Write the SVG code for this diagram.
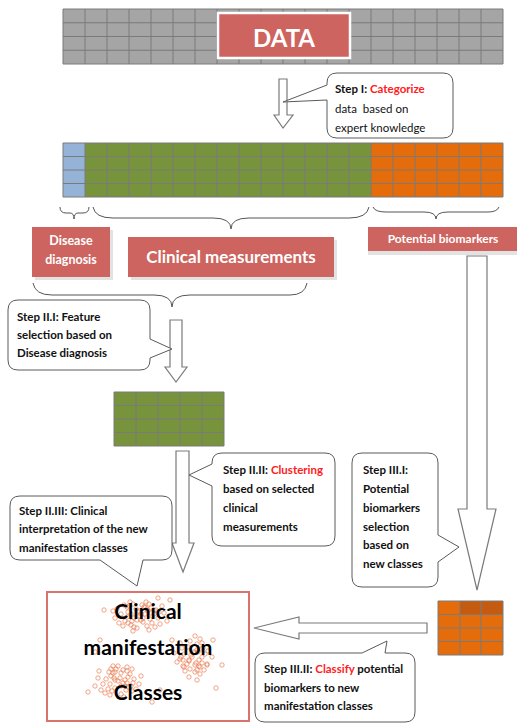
<svg xmlns="http://www.w3.org/2000/svg" width="517" height="724" viewBox="0 0 517 724">
<defs>
<style>
.gl{fill:none;stroke:#7a7a7a;stroke-width:1}
.lab{fill:#CD645F}
.sh{fill:#e2e2e2}
.lt{font-family:Lato,"Liberation Sans",sans-serif;font-weight:bold;fill:#ffffff;text-anchor:middle}
.st{font-family:Lato,"Liberation Sans",sans-serif;font-size:11.5px;fill:#111111}
.b{font-weight:bold}
.red{fill:#ff2020;font-weight:bold}
.call{fill:#ffffff;stroke:#5a5a5a;stroke-width:1}
.arr{fill:#ffffff;stroke:#7a7a7a;stroke-width:1.2}
.br{fill:none;stroke:#555555;stroke-width:1}
.dot{fill:none;stroke:#E8794F;stroke-width:0.9;opacity:0.75}
.big{font-family:Lato,"Liberation Sans",sans-serif;font-weight:bold;font-size:21px;fill:#000000;text-anchor:middle}
</style>
<circle id="c" r="2.2" class="dot"/>
</defs>
<rect width="517" height="724" fill="#ffffff"/>

<g id="data-grid">
<rect x="63" y="9" width="440" height="55" fill="#A5A5A5"/>
<path class="gl" d="M63,9H503V64H63Z M63,22.75H503 M63,36.5H503 M63,50.25H503 M85,9V64 M107,9V64 M129,9V64 M151,9V64 M173,9V64 M195,9V64 M217,9V64 M239,9V64 M261,9V64 M283,9V64 M305,9V64 M327,9V64 M349,9V64 M371,9V64 M393,9V64 M415,9V64 M437,9V64 M459,9V64 M481,9V64"/>
</g>
<g id="data-label">
<rect x="218" y="13" width="132" height="45" fill="#CD645F" stroke="#ffffff" stroke-width="2.5"/>
<text class="lt" x="284" y="47" font-size="24">DATA</text>
</g>

<g id="categorized-grid">
<rect x="63" y="143" width="22" height="54" fill="#95B3D7"/>
<rect x="85" y="143" width="286" height="54" fill="#77933C"/>
<rect x="371" y="143" width="132" height="54" fill="#E46C0A"/>
<path class="gl" d="M63,143H503V197H63Z M63,156.5H503 M63,170H503 M63,183.5H503 M85,143V197 M107,143V197 M129,143V197 M151,143V197 M173,143V197 M195,143V197 M217,143V197 M239,143V197 M261,143V197 M283,143V197 M305,143V197 M327,143V197 M349,143V197 M371,143V197 M393,143V197 M415,143V197 M437,143V197 M459,143V197 M481,143V197"/>
</g>

<g id="braces">
<path class="br" d="M60,207 Q60,213 66,213 H70 Q74,213 74,219 Q74,213 78,213 H83 Q89,213 89,207"/>
<path class="br" d="M93,207 Q95,218 113,218 H213 Q231,218 231,229 Q231,218 249,218 H349 Q367,218 369,207"/>
<path class="br" d="M373,207 Q375,212 386,212 H424 Q436,212 436,219 Q436,212 448,212 H488 Q497,212 499,207"/>
<path class="br" d="M33,283 Q35,295 52,295 H154 Q172,295 172,307 Q172,295 190,295 H290 Q305,295 307,283"/>
</g>

<g id="label-disease">
<rect class="sh" x="35" y="230" width="78" height="50"/>
<rect class="lab" x="32" y="227" width="78" height="50"/>
<text class="lt" x="71" y="245" font-size="12.5">Disease</text>
<text class="lt" x="71" y="264" font-size="12.5">diagnosis</text>
</g>
<g id="label-clinical">
<rect class="sh" x="131" y="240" width="206" height="40"/>
<rect class="lab" x="128" y="237" width="206" height="40"/>
<text class="lt" x="231" y="263" font-size="17">Clinical measurements</text>
</g>
<g id="label-biomarkers">
<rect class="sh" x="368" y="230" width="149" height="25"/>
<rect class="lab" x="368" y="227" width="149" height="24"/>
<text class="lt" x="443" y="243" font-size="12">Potential biomarkers</text>
</g>

<g id="green-subset">
<rect x="114" y="392" width="110" height="54" fill="#77933C"/>
<path class="gl" d="M114,392H224V446H114Z M114,405.5H224 M114,419H224 M114,432.5H224 M136,392V446 M158,392V446 M180,392V446 M202,392V446"/>
</g>

<g id="orange-subset">
<rect x="438" y="601" width="65" height="54" fill="#E46C0A"/>
<rect x="460" y="601" width="43" height="13.5" fill="#C55A11"/>
<path class="gl" d="M438,601H503V655H438Z M438,614.5H503 M438,628H503 M438,641.5H503 M460,601V655 M481,601V655"/>
</g>

<g id="connectors">
<path class="arr" d="M279,79 H287 V115 H293 L283,128 L274,115 H279 Z"/>
<path class="arr" d="M170,320 H182 V367 H187 L176,382 L165,367 H170 Z"/>
<path class="arr" d="M176,451 H189 V543 H194 L183,572 L172,543 H176 Z"/>
<path class="arr" d="M467,256 H487 V509 H496 L477,590 L458,509 H467 Z"/>
<path class="arr" d="M427,623 V633 H299 V639 L254,628 L299,617 V623 Z"/>
</g>

<g id="step1">
<path class="call" d="M337,73 H443 Q453,73 453,83 V128 Q453,138 443,138 H337 Q327,138 327,128 V100 L283,102 L327,85 V83 Q327,73 337,73 Z"/>
<text class="st" x="335" y="93"><tspan class="b">Step I: </tspan><tspan class="red">Categorize</tspan></text>
<text class="st" x="335" y="113">data&#160; based on</text>
<text class="st" x="335" y="132">expert knowledge</text>
</g>

<g id="step2-1">
<path class="call" d="M18,300 H140 Q150,300 150,310 V339 L172,349 L150,358 V360 Q150,370 140,370 H18 Q8,370 8,360 V310 Q8,300 18,300 Z"/>
<text class="st b" x="17" y="321">Step II.I: Feature</text>
<text class="st b" x="17" y="339">selection based on</text>
<text class="st b" x="17" y="357">Disease diagnosis</text>
</g>

<g id="step2-2">
<path class="call" d="M222,453 H325 Q335,453 335,463 V536 Q335,546 325,546 H222 Q212,546 212,536 V486 L189,475 L212,464 V463 Q212,453 222,453 Z"/>
<text class="st b" x="223" y="474">Step II.II: <tspan class="red">Clustering</tspan></text>
<text class="st b" x="223" y="493">based on selected</text>
<text class="st b" x="223" y="512">clinical</text>
<text class="st b" x="223" y="531">measurements</text>
</g>

<g id="step3-1">
<path class="call" d="M362,453 H428 Q438,453 438,463 V535 L459,547 L438,562 V577 Q438,587 428,587 H362 Q352,587 352,577 V463 Q352,453 362,453 Z"/>
<text class="st b" x="363" y="474">Step III.I:</text>
<text class="st b" x="363" y="493">Potential</text>
<text class="st b" x="363" y="512">biomarkers</text>
<text class="st b" x="363" y="531">selection</text>
<text class="st b" x="363" y="549">based on</text>
<text class="st b" x="363" y="568">new classes</text>
</g>

<g id="step2-3">
<path class="call" d="M20,496 H162 Q172,496 172,506 V550 Q172,560 162,560 H143 L137,586 L100,560 H20 Q10,560 10,550 V506 Q10,496 20,496 Z"/>
<text class="st b" x="19" y="515">Step II.III: Clinical</text>
<text class="st b" x="19" y="533">interpretation of the new</text>
<text class="st b" x="19" y="552">manifestation classes</text>
</g>

<g id="step3-2">
<path class="call" d="M265,653 H362 L387,641 L385,653 H405 Q415,653 415,663 V712 Q415,722 405,722 H265 Q255,722 255,712 V663 Q255,653 265,653 Z"/>
<text class="st b" x="264" y="673">Step III.II: <tspan class="red">Classify</tspan> potential</text>
<text class="st b" x="264" y="692">biomarkers to new</text>
<text class="st b" x="264" y="710">manifestation classes</text>
</g>

<g id="classes">
<rect x="47" y="592" width="202" height="129" fill="#ffffff" stroke="#D9736E" stroke-width="2"/>
<g id="clusterA">
<g transform="translate(0,-8)">
<use href="#c" x="140" y="624"/><use href="#c" x="145" y="622"/><use href="#c" x="134" y="626"/><use href="#c" x="150" y="627"/><use href="#c" x="128" y="620"/><use href="#c" x="143" y="630"/><use href="#c" x="136" y="617"/><use href="#c" x="154" y="622"/><use href="#c" x="125" y="629"/><use href="#c" x="147" y="634"/><use href="#c" x="131" y="633"/><use href="#c" x="158" y="626"/><use href="#c" x="121" y="622"/><use href="#c" x="142" y="613"/><use href="#c" x="137" y="636"/><use href="#c" x="151" y="616"/><use href="#c" x="129" y="614"/><use href="#c" x="160" y="632"/><use href="#c" x="119" y="631"/><use href="#c" x="146" y="610"/><use href="#c" x="133" y="639"/><use href="#c" x="155" y="635"/><use href="#c" x="124" y="613"/><use href="#c" x="164" y="621"/><use href="#c" x="115" y="626"/><use href="#c" x="141" y="628"/><use href="#c" x="138" y="620"/><use href="#c" x="148" y="619"/><use href="#c" x="132" y="629"/><use href="#c" x="152" y="631"/><use href="#c" x="127" y="625"/><use href="#c" x="144" y="615"/><use href="#c" x="156" y="618"/><use href="#c" x="123" y="634"/><use href="#c" x="162" y="614"/><use href="#c" x="117" y="617"/><use href="#c" x="149" y="638"/><use href="#c" x="130" y="610"/><use href="#c" x="167" y="629"/><use href="#c" x="113" y="619"/>
</g>
<g transform="translate(3,-6)">
<use href="#c" x="140" y="624"/><use href="#c" x="134" y="626"/><use href="#c" x="128" y="620"/><use href="#c" x="136" y="617"/><use href="#c" x="125" y="629"/><use href="#c" x="131" y="633"/><use href="#c" x="142" y="613"/><use href="#c" x="151" y="616"/><use href="#c" x="146" y="610"/><use href="#c" x="124" y="613"/><use href="#c" x="138" y="620"/><use href="#c" x="144" y="615"/><use href="#c" x="130" y="610"/><use href="#c" x="156" y="618"/><use href="#c" x="148" y="619"/>
</g>
</g>
<g id="clusterB">
<g transform="translate(0,-5)">
<use href="#c" x="192" y="662"/><use href="#c" x="189" y="666"/><use href="#c" x="194" y="657"/><use href="#c" x="195" y="670"/><use href="#c" x="188" y="652"/><use href="#c" x="199" y="665"/><use href="#c" x="184" y="659"/><use href="#c" x="190" y="674"/><use href="#c" x="197" y="649"/><use href="#c" x="202" y="668"/><use href="#c" x="201" y="654"/><use href="#c" x="195" y="677"/><use href="#c" x="190" y="646"/><use href="#c" x="180" y="664"/><use href="#c" x="205" y="659"/><use href="#c" x="183" y="671"/><use href="#c" x="182" y="653"/><use href="#c" x="200" y="679"/><use href="#c" x="200" y="644"/><use href="#c" x="177" y="667"/><use href="#c" x="208" y="656"/><use href="#c" x="204" y="675"/><use href="#c" x="180" y="648"/><use href="#c" x="189" y="682"/><use href="#c" x="195" y="641"/><use href="#c" x="187" y="669"/><use href="#c" x="197" y="655"/><use href="#c" x="200" y="672"/><use href="#c" x="183" y="665"/><use href="#c" x="185" y="676"/><use href="#c" x="202" y="648"/><use href="#c" x="207" y="670"/><use href="#c" x="197" y="685"/><use href="#c" x="212" y="662"/><use href="#c" x="174" y="658"/>
</g>
<g transform="translate(-3,-2)">
<use href="#c" x="192" y="662"/><use href="#c" x="194" y="657"/><use href="#c" x="199" y="665"/><use href="#c" x="184" y="659"/><use href="#c" x="202" y="668"/><use href="#c" x="201" y="654"/><use href="#c" x="205" y="659"/><use href="#c" x="187" y="669"/><use href="#c" x="197" y="655"/><use href="#c" x="200" y="672"/><use href="#c" x="210" y="666"/><use href="#c" x="206" y="650"/>
</g>
</g>
<g id="clusterC">
<g transform="translate(0,5)">
<use href="#c" x="118" y="676"/><use href="#c" x="114" y="673"/><use href="#c" x="123" y="678"/><use href="#c" x="110" y="679"/><use href="#c" x="128" y="672"/><use href="#c" x="115" y="683"/><use href="#c" x="121" y="668"/><use href="#c" x="106" y="674"/><use href="#c" x="131" y="681"/><use href="#c" x="112" y="686"/><use href="#c" x="126" y="685"/><use href="#c" x="103" y="679"/><use href="#c" x="134" y="674"/><use href="#c" x="116" y="664"/><use href="#c" x="121" y="689"/><use href="#c" x="109" y="667"/><use href="#c" x="127" y="666"/><use href="#c" x="101" y="685"/><use href="#c" x="136" y="684"/><use href="#c" x="113" y="661"/><use href="#c" x="124" y="692"/><use href="#c" x="105" y="688"/><use href="#c" x="132" y="664"/><use href="#c" x="98" y="673"/><use href="#c" x="139" y="679"/><use href="#c" x="111" y="671"/><use href="#c" x="125" y="681"/><use href="#c" x="108" y="684"/><use href="#c" x="115" y="667"/><use href="#c" x="132" y="686"/><use href="#c" x="99" y="666"/><use href="#c" x="110" y="690"/><use href="#c" x="127" y="662"/><use href="#c" x="95" y="681"/><use href="#c" x="141" y="671"/>
</g>
<g transform="translate(2,2)">
<use href="#c" x="118" y="676"/><use href="#c" x="123" y="678"/><use href="#c" x="128" y="672"/><use href="#c" x="121" y="668"/><use href="#c" x="131" y="681"/><use href="#c" x="126" y="685"/><use href="#c" x="116" y="664"/><use href="#c" x="109" y="667"/><use href="#c" x="111" y="671"/><use href="#c" x="125" y="681"/><use href="#c" x="113" y="678"/><use href="#c" x="119" y="684"/>
</g>
</g>
<use href="#c" x="170" y="600"/><use href="#c" x="158" y="598"/><use href="#c" x="100" y="640"/><use href="#c" x="213" y="640"/><use href="#c" x="88" y="692"/><use href="#c" x="152" y="702"/><use href="#c" x="216" y="688"/><use href="#c" x="172" y="640"/><use href="#c" x="95" y="652"/><use href="#c" x="104" y="610"/><use href="#c" x="222" y="665"/><use href="#c" x="160" y="690"/>
<text class="big" x="148" y="619">Clinical</text>
<text class="big" x="148" y="655">manifestation</text>
<text class="big" x="148" y="700">Classes</text>
</g>
</svg>
